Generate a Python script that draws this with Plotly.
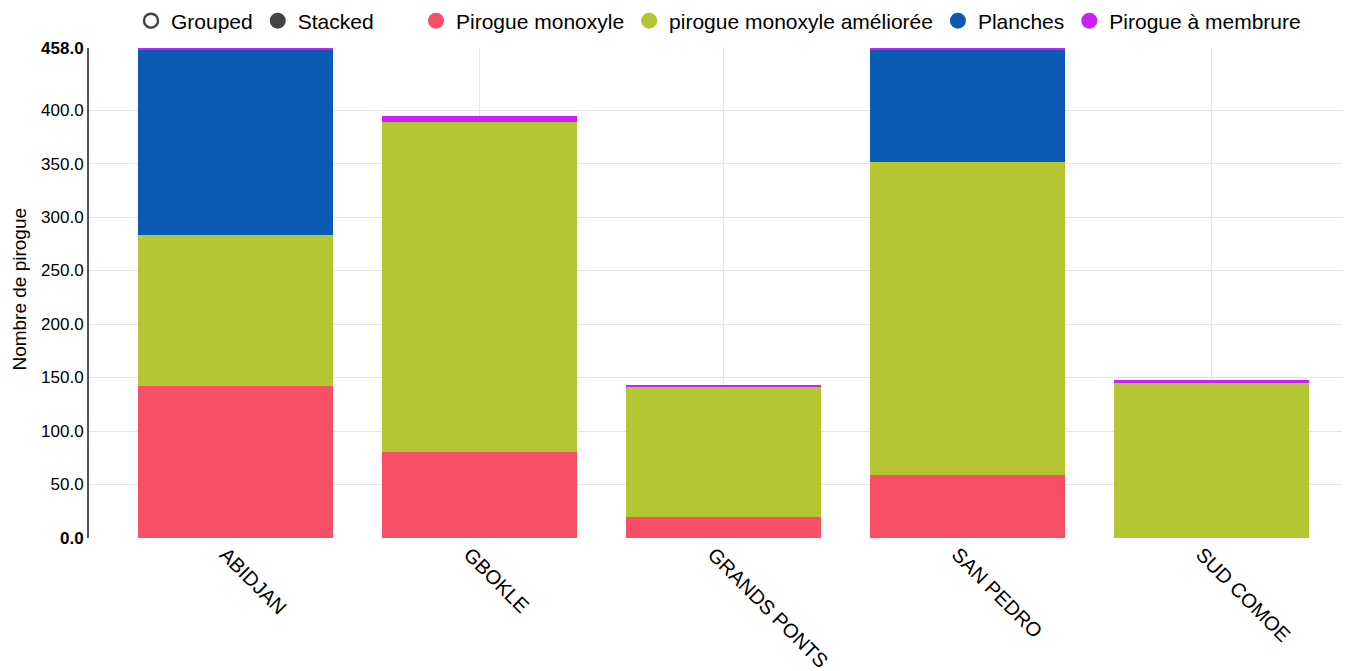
import plotly.graph_objects as go

categories = ["ABIDJAN", "GBOKLE", "GRANDS PONTS", "SAN PEDRO", "SUD COMOE"]
series_names = ["Pirogue monoxyle", "pirogue monoxyle améliorée", "Planches", "Pirogue à membrure"]
pirogue_monoxyle = [142, 80, 20, 59, 0]
pirogue_amelioree = [141, 309, 121, 292, 145]
planches = [173, 0, 0, 106, 0]
pirogue_membrure = [2, 5, 2, 1, 3]
series_values = [pirogue_monoxyle, pirogue_amelioree, planches, pirogue_membrure]
colors = ["#f74f65", "#b4c732", "#0b5ab3", "#cc1ef7"]

y_tick_vals = [0, 50, 100, 150, 200, 250, 300, 350, 400, 458]
y_tick_text = ["<b>0.0</b>", "50.0", "100.0", "150.0", "200.0", "250.0", "300.0", "350.0", "400.0", "<b>458.0</b>"]
y_title = "Nombre de pirogue"

FONT = "Liberation Sans, Arial, sans-serif"

fig = go.Figure()
for name, vals, col in zip(series_names, series_values, colors):
    fig.add_trace(go.Bar(x=categories, y=vals, name=name, marker=dict(color=col, line=dict(width=0)),
                         showlegend=False))
for name, col in zip(series_names, colors):
    fig.add_trace(go.Scatter(x=[None], y=[None], mode="markers", name=name,
                             marker=dict(symbol="circle", size=16, color=col), legend="legend"))

# Controls legend (Grouped / Stacked)
fig.add_trace(go.Scatter(x=[None], y=[None], mode="markers", name="Grouped",
                         marker=dict(symbol="circle-open", size=14, color="#444", line=dict(width=2.5)),
                         legend="legend2"))
fig.add_trace(go.Scatter(x=[None], y=[None], mode="markers", name="Stacked",
                         marker=dict(symbol="circle", size=16, color="#444"), legend="legend2"))

fig.add_annotation(text=y_title, textangle=-90, xref="paper", yref="paper",
                   x=0, y=0.508, xanchor="right", yanchor="middle", xshift=-57,
                   showarrow=False, font=dict(size=19, color="#000"))

fig.update_layout(
    barmode="stack",
    bargap=0.2,
    width=1350, height=671,
    margin=dict(l=81, r=12, t=40, b=141, autoexpand=False),
    paper_bgcolor="white", plot_bgcolor="white",
    font=dict(family=FONT, size=17, color="#000"),
    legend=dict(orientation="h", xref="container", yref="container",
                x=408 / 1350, xanchor="left", y=1 - 13 / 671, yanchor="middle",
                font=dict(size=21, color="#000"), itemwidth=30, traceorder="normal",
                bgcolor="rgba(0,0,0,0)"),
    legend2=dict(orientation="h", xref="container", yref="container",
                 x=123 / 1350, xanchor="left", y=1 - 13 / 671, yanchor="middle",
                 font=dict(size=21, color="#000"), itemwidth=30, traceorder="normal",
                 bgcolor="rgba(0,0,0,0)"),
    xaxis=dict(range=[-0.6, 4.55], showgrid=True, gridcolor="#e5e5e5", gridwidth=1,
               tickangle=45, tickfont=dict(size=20, color="#000"), showline=False,
               zeroline=False, ticks="", automargin=False, ticklabelshift=-10),
    yaxis=dict(range=[0, 458], tickvals=y_tick_vals, ticktext=y_tick_text,
               showgrid=True, gridcolor="#e5e5e5", gridwidth=1,
               showline=True, linecolor="#555", linewidth=2, zeroline=False,
               tickfont=dict(size=17, color="#000"), ticks="", automargin=False),
)

fig.write_html("out.html")
